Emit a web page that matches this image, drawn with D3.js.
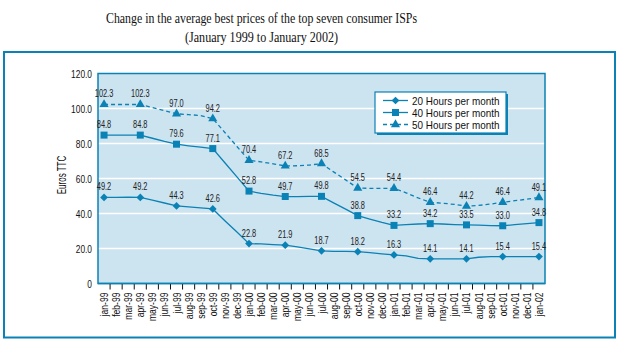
<!DOCTYPE html>
<html>
<head>
<meta charset="utf-8">
<script src="https://cdn.jsdelivr.net/npm/d3@7"></script>
<style>
  body { margin: 0; background: #fff; }
  svg { display: block; }
  .narrow { font-family: "Liberation Sans", Arial, sans-serif; }
</style>
</head>
<body>
<div class="chart"></div>
<script>
//Width and height
var w = 619;
var h = 350;

//Month categories (tick labels)
var months = ["jan-99","feb-99","mar-99","apr-99","may-99","jun-99","jul-99","aug-99","sep-99","oct-99","nov-99","dec-99",
              "jan-00","feb-00","mar-00","apr-00","may-00","jun-00","jul-00","aug-00","sep-00","oct-00","nov-00","dec-00",
              "jan-01","feb-01","mar-01","apr-01","may-01","jun-01","jul-01","aug-01","sep-01","oct-01","nov-01","dec-01",
              "jan-02"];

//Series values (euros TTC), one per month
var hours20 = [49.2,49.2,49.3,49.2,47.6,46.0,44.3,43.8,43.2,42.6,35.9,29.4,
               22.8,22.6,22.2,21.9,20.9,19.8,18.7,18.4,18.3,18.2,17.6,16.9,
               16.3,15.8,14.3,14.1,14.1,14.1,14.1,15.0,15.3,15.4,15.4,15.4,
               15.4];
var hours40 = [84.8,84.8,84.8,84.8,83.0,81.2,79.6,78.7,77.9,77.1,69.0,60.9,
               52.8,51.5,50.5,49.7,49.7,49.8,49.8,46.1,42.5,38.8,36.8,34.9,
               33.2,33.6,34.0,34.2,34.0,33.7,33.5,33.3,33.1,33.0,33.6,34.2,
               34.8];
var hours50 = [102.3,102.3,102.3,102.3,100.6,98.8,97.0,96.5,96.0,94.2,86.3,78.3,
               70.4,69.5,68.4,67.2,67.3,67.7,68.5,63.8,59.2,54.5,54.4,54.4,
               54.4,51.8,48.9,46.4,45.9,45.2,44.2,44.6,45.4,46.4,47.3,48.2,
               49.1];

//Series names and y ticks
var seriesNames = ["20 Hours per month", "40 Hours per month", "50 Hours per month"];
var yTicks = [0, 20, 40, 60, 80, 100, 120];

var teal = "#0b82b5";
var plotFill = "#cce3f0";

var series = [
  { name: seriesNames[0], values: hours20, symbol: d3.symbolSquare, size: 30, rotate: 45, dash: null },
  { name: seriesNames[1], values: hours40, symbol: d3.symbolSquare, size: 49, rotate: 0, dash: null },
  { name: seriesNames[2], values: hours50, symbol: d3.symbolTriangle, size: 36, rotate: 0, dash: "4,3" }
];

//Squeeze text horizontally to mimic the condensed face of the original
function condense(sel, f) {
  sel.each(function() {
    var len = this.getComputedTextLength();
    d3.select(this)
      .attr("textLength", len * f)
      .attr("lengthAdjust", "spacingAndGlyphs");
  });
}

//Plot area
var plot = { left: 98, right: 545, top: 73.5, bottom: 283.5 };

var x = d3.scaleBand()
          .domain(months)
          .range([plot.left, plot.right]);

var y = d3.scaleLinear()
          .domain([0, 120])
          .range([plot.bottom, plot.top]);

//Create SVG element
var svg = d3.select(".chart")
            .append("svg")
            .attr("width", w)
            .attr("height", h);

//Title
var titleLines = [
  { text: "Change in the average best prices of the top seven consumer ISPs", y: 23, len: 311 },
  { text: "(January 1999 to January 2002)", y: 42, len: 153 }
];
svg.selectAll("text.title")
  .data(titleLines)
  .enter()
  .append("text")
  .attr("class", "title")
  .attr("x", 261.5)
  .attr("y", function(d) { return d.y; })
  .attr("text-anchor", "middle")
  .attr("textLength", function(d) { return d.len; })
  .attr("lengthAdjust", "spacingAndGlyphs")
  .style("font-family", "'Liberation Serif', 'DejaVu Serif', serif")
  .style("font-size", "15px")
  .style("fill", "#111")
  .text(function(d) { return d.text; });

//Outer frame
svg.append("rect")
  .attr("x", 4)
  .attr("y", 52)
  .attr("width", 611)
  .attr("height", 285.5)
  .style("fill", "none")
  .style("stroke", teal)
  .style("stroke-width", 2);

//Plot background
svg.append("rect")
  .attr("x", plot.left)
  .attr("y", plot.top)
  .attr("width", plot.right - plot.left)
  .attr("height", plot.bottom - plot.top)
  .style("fill", plotFill);

//White gridlines
svg.selectAll("line.grid")
  .data(yTicks.filter(function(d) { return d > 0 && d < 120; }))
  .enter()
  .append("line")
  .attr("class", "grid")
  .attr("x1", plot.left)
  .attr("x2", plot.right)
  .attr("y1", function(d) { return y(d); })
  .attr("y2", function(d) { return y(d); })
  .style("stroke", "#fff")
  .style("stroke-width", 1.5);

//Plot border
svg.append("rect")
  .attr("x", plot.left)
  .attr("y", plot.top)
  .attr("width", plot.right - plot.left)
  .attr("height", plot.bottom - plot.top)
  .style("fill", "none")
  .style("stroke", teal)
  .style("stroke-width", 1.5);

//Y axis labels
var yAxis = d3.axisLeft(y)
              .tickValues(yTicks)
              .tickSize(0)
              .tickPadding(6)
              .tickFormat(function(d) { return d === 0 ? "0" : d3.format(".1f")(d); });

var gy = svg.append("g")
  .attr("class", "narrow")
  .attr("transform", "translate(" + plot.left + ",0)")
  .call(yAxis);
gy.select(".domain").remove();
gy.selectAll("text")
  .style("font-family", "'Liberation Sans', Arial, sans-serif")
  .style("font-size", "11px")
  .style("fill", "#111")
  .call(condense, 0.76);

//Y axis title
svg.append("text")
  .attr("class", "narrow")
  .attr("transform", "translate(66,175) rotate(-90)")
  .attr("text-anchor", "middle")
  .style("font-size", "12.5px")
  .style("fill", "#111")
  .text("Euros TTC")
  .call(condense, 0.64);

//X axis: ticks at the band boundaries, labels at band centres
var boundaries = months.slice(1).map(function(m) { return x(m); });
svg.selectAll("line.xtick")
  .data(boundaries)
  .enter()
  .append("line")
  .attr("class", "xtick")
  .attr("x1", function(d) { return d; })
  .attr("x2", function(d) { return d; })
  .attr("y1", plot.bottom)
  .attr("y2", plot.bottom + 6)
  .style("stroke", "#111")
  .style("stroke-width", 1);

svg.selectAll("text.xlabel")
  .data(months)
  .enter()
  .append("text")
  .attr("class", "xlabel narrow")
  .attr("transform", function(d) {
    return "translate(" + (x(d) + x.bandwidth() / 2 + 4) + "," + (plot.bottom + 9) + ") rotate(-90)";
  })
  .attr("text-anchor", "end")
  .style("font-size", "11px")
  .style("fill", "#111")
  .text(function(d) { return d; })
  .call(condense, 0.78);

//Bottom axis line
svg.append("line")
  .attr("x1", plot.left)
  .attr("x2", plot.right)
  .attr("y1", plot.bottom)
  .attr("y2", plot.bottom)
  .style("stroke", teal)
  .style("stroke-width", 1.5);

//Line generator
var line = d3.line()
             .x(function(d, i) { return x(months[i]) + x.bandwidth() / 2; })
             .y(function(d) { return y(d); });

//Draw each series
series.forEach(function(s) {
  svg.append("path")
    .datum(s.values)
    .attr("d", line)
    .style("fill", "none")
    .style("stroke", teal)
    .style("stroke-width", 1.3)
    .style("stroke-dasharray", s.dash);

  //Markers and labels every three months
  var pts = s.values.map(function(v, i) { return { v: v, m: months[i], i: i }; })
                    .filter(function(d) { return d.i % 3 === 0; });

  svg.selectAll(null)
    .data(pts)
    .enter()
    .append("path")
    .attr("d", d3.symbol().type(s.symbol).size(s.size))
    .attr("transform", function(d) {
      return "translate(" + (x(d.m) + x.bandwidth() / 2) + "," + y(d.v) + ") rotate(" + s.rotate + ")";
    })
    .style("fill", teal);

  svg.selectAll(null)
    .data(pts)
    .enter()
    .append("text")
    .attr("class", "narrow")
    .attr("x", function(d) { return x(d.m) + x.bandwidth() / 2; })
    .attr("y", function(d) { return y(d.v) - 7; })
    .attr("text-anchor", "middle")
    .style("font-size", "10px")
    .style("fill", "#222")
    .text(function(d) { return d3.format(".1f")(d.v); })
    .call(condense, 0.74);
});

//Legend
var legend = { x: 375, y: 92, w: 131, h: 41 };
svg.append("rect")
  .attr("x", legend.x + 2)
  .attr("y", legend.y + 2)
  .attr("width", legend.w)
  .attr("height", legend.h)
  .style("fill", teal);
svg.append("rect")
  .attr("x", legend.x)
  .attr("y", legend.y)
  .attr("width", legend.w)
  .attr("height", legend.h)
  .style("fill", "#fff")
  .style("stroke", teal)
  .style("stroke-width", 1.2);

var items = svg.selectAll("g.legend-item")
  .data(series)
  .enter()
  .append("g")
  .attr("class", "legend-item")
  .attr("transform", function(d, i) { return "translate(" + (legend.x + 8) + "," + (legend.y + 8.5 + i * 12) + ")"; });

items.append("line")
  .attr("x1", 0)
  .attr("x2", 25)
  .style("stroke", teal)
  .style("stroke-width", 1.3)
  .style("stroke-dasharray", function(d) { return d.dash; });

items.append("path")
  .attr("d", function(d) { return d3.symbol().type(d.symbol).size(d.size)(); })
  .attr("transform", function(d) { return "translate(12.5,0) rotate(" + d.rotate + ")"; })
  .style("fill", teal);

items.append("text")
  .attr("class", "narrow")
  .attr("x", 29)
  .attr("y", 4)
  .style("font-size", "11.5px")
  .style("fill", "#111")
  .text(function(d) { return d.name; })
  .call(condense, 0.86);
</script>
</body>
</html>
